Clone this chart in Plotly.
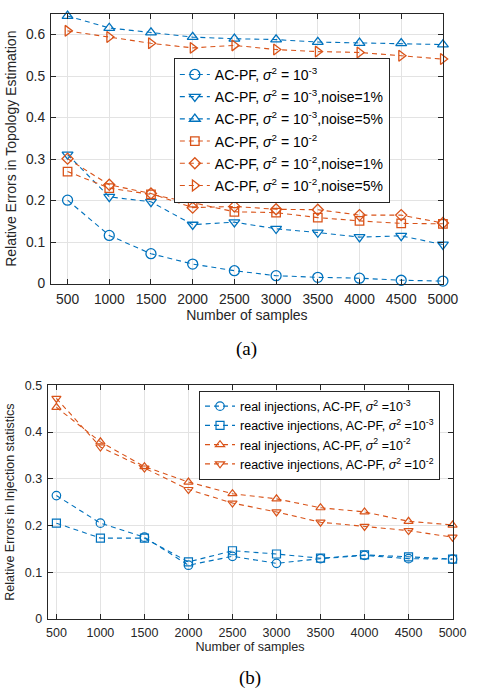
import plotly.graph_objects as go

samples = [500, 1000, 1500, 2000, 2500, 3000, 3500, 4000, 4500, 5000]

# (a) topology estimation errors
topo_s3 = [0.201, 0.116, 0.072, 0.047, 0.031, 0.019, 0.015, 0.013, 0.008, 0.006]
topo_s3_n1 = [0.311, 0.209, 0.197, 0.142, 0.148, 0.132, 0.123, 0.112, 0.115, 0.094]
topo_s3_n5 = [0.645, 0.616, 0.605, 0.594, 0.590, 0.588, 0.582, 0.580, 0.579, 0.576]
topo_s2 = [0.270, 0.230, 0.215, 0.195, 0.173, 0.171, 0.159, 0.151, 0.145, 0.144]
topo_s2_n1 = [0.301, 0.238, 0.217, 0.183, 0.186, 0.179, 0.178, 0.165, 0.165, 0.146]
topo_s2_n5 = [0.609, 0.594, 0.579, 0.568, 0.574, 0.564, 0.559, 0.557, 0.549, 0.541]

# (b) injection statistics errors
inj_real_s3 = [0.264, 0.205, 0.175, 0.115, 0.134, 0.119, 0.129, 0.136, 0.129, 0.128]
inj_react_s3 = [0.205, 0.173, 0.173, 0.122, 0.146, 0.139, 0.130, 0.137, 0.133, 0.128]
inj_real_s2 = [0.453, 0.379, 0.326, 0.293, 0.268, 0.257, 0.238, 0.229, 0.209, 0.201]
inj_react_s2 = [0.472, 0.368, 0.323, 0.277, 0.248, 0.229, 0.207, 0.198, 0.189, 0.175]

topo_names = [
    "AC-PF, <i>σ</i><sup>2</sup> = 10<sup>-3</sup>",
    "AC-PF, <i>σ</i><sup>2</sup> = 10<sup>-3</sup>,noise=1%",
    "AC-PF, <i>σ</i><sup>2</sup> = 10<sup>-3</sup>,noise=5%",
    "AC-PF, <i>σ</i><sup>2</sup> = 10<sup>-2</sup>",
    "AC-PF, <i>σ</i><sup>2</sup> = 10<sup>-2</sup>,noise=1%",
    "AC-PF, <i>σ</i><sup>2</sup> = 10<sup>-2</sup>,noise=5%",
]
inj_names = [
    "real injections, AC-PF, <i>σ</i><sup>2</sup> =10<sup>-3</sup>",
    "reactive injections, AC-PF, <i>σ</i><sup>2</sup> =10<sup>-3</sup>",
    "real injections, AC-PF, <i>σ</i><sup>2</sup> =10<sup>-2</sup>",
    "reactive injections, AC-PF, <i>σ</i><sup>2</sup> =10<sup>-2</sup>",
]

BLUE = "#0072BD"
ORANGE = "#D95319"
FONT = "Liberation Sans, Arial, sans-serif"
AX = "#262626"

fig = go.Figure()

topo_series = [topo_s3, topo_s3_n1, topo_s3_n5, topo_s2, topo_s2_n1, topo_s2_n5]
topo_colors = [BLUE, BLUE, BLUE, ORANGE, ORANGE, ORANGE]
topo_symbols = ["circle-open", "triangle-down-open", "triangle-up-open",
                "square-open", "diamond-open", "triangle-right-open"]
topo_sizes = [10, 9.5, 9.5, 8.5, 8.5, 9.5]
for i, (ys, c, s, sz, nm) in enumerate(zip(topo_series, topo_colors, topo_symbols, topo_sizes, topo_names)):
    fig.add_trace(go.Scatter(
        x=samples, y=ys, name=nm, mode="lines+markers", cliponaxis=False,
        line=dict(color=c, width=1.1, dash="5px,4px"),
        marker=dict(symbol=s, size=sz, color=c, line=dict(width=1.3, color=c)),
        xaxis="x", yaxis="y", legend="legend", legendgroup="a%d" % i))

inj_series = [inj_real_s3, inj_react_s3, inj_real_s2, inj_react_s2]
inj_colors = [BLUE, BLUE, ORANGE, ORANGE]
inj_symbols = ["circle-open", "square-open", "triangle-up-open", "triangle-down-open"]
inj_sizes = [8.5, 8, 8, 8]
for i, (ys, c, s, sz, nm) in enumerate(zip(inj_series, inj_colors, inj_symbols, inj_sizes, inj_names)):
    fig.add_trace(go.Scatter(
        x=samples, y=ys, name=nm, mode="lines+markers", cliponaxis=False,
        line=dict(color=c, width=1.1, dash="5px,4px"),
        marker=dict(symbol=s, size=sz, color=c, line=dict(width=1.2, color=c)),
        xaxis="x2", yaxis="y2", legend="legend2", legendgroup="b%d" % i))


def axis(size, **kw):
    d = dict(
        showgrid=True, gridcolor="#E3E3E3", gridwidth=1,
        showline=True, linecolor=AX, linewidth=1, mirror="ticks",
        ticks="inside", ticklen=5, tickcolor=AX, zeroline=False,
        tickfont=dict(family=FONT, color=AX, size=size),
    )
    d.update(kw)
    return d


fig.update_layout(
    width=484, height=692,
    margin=dict(l=0, r=0, t=0, b=0),
    paper_bgcolor="white", plot_bgcolor="white",
    font=dict(family=FONT, color=AX),
    xaxis=axis(13.8, domain=[51.7 / 484, 458 / 484], range=[300, 5000], anchor="y",
               tickvals=samples, ticklabelstandoff=3,
               title=dict(text="Number of samples", font=dict(size=14, color=AX), standoff=3)),
    yaxis=axis(13.8, domain=[1 - 282.7 / 692, 1 - 7 / 692], range=[0, 0.65], anchor="x",
               tickvals=[0, 0.1, 0.2, 0.3, 0.4, 0.5, 0.6],
               ticktext=["0", "0.1", "0.2", "0.3", "0.4", "0.5", "0.6"],
               ticklabelstandoff=2,
               title=dict(text="Relative Errors in Topology Estimation",
                          font=dict(size=14, color=AX), standoff=6)),
    xaxis2=axis(12.5, domain=[48.3 / 484, 468 / 484], range=[400, 5000], anchor="y2",
                tickvals=samples, ticklabelstandoff=2,
                title=dict(text="Number of samples", font=dict(size=12.6, color=AX), standoff=3)),
    yaxis2=axis(12.5, domain=[1 - 625.5 / 692, 1 - 386.7 / 692], range=[0, 0.5], anchor="x2",
                tickvals=[0, 0.1, 0.2, 0.3, 0.4, 0.5],
                ticktext=["0", "0.1", "0.2", "0.3", "0.4", "0.5"],
                ticklabelstandoff=2,
                title=dict(text="Relative Errors in Injection statistics",
                           font=dict(size=12.5, color=AX), standoff=7)),
    legend=dict(x=403 / 484, y=1 - 52 / 692, xanchor="right", yanchor="top",
                bgcolor="white", bordercolor=AX, borderwidth=1,
                font=dict(family=FONT, size=14, color="#000000"),
                traceorder="grouped", tracegroupgap=1, itemwidth=30),
    legend2=dict(x=455 / 484, y=1 - 392 / 692, xanchor="right", yanchor="top",
                 bgcolor="white", bordercolor=AX, borderwidth=1,
                 font=dict(family=FONT, size=12.5, color="#000000"),
                 traceorder="grouped", tracegroupgap=0, itemwidth=30),
    annotations=[
        dict(text="(a)", x=254 / 484, y=1 - 350 / 692, xref="paper", yref="paper",
             showarrow=False, yanchor="middle",
             font=dict(family="Liberation Serif, Times New Roman, serif", size=19, color="#000")),
        dict(text="(b)", x=258 / 484, y=1 - 686 / 692, xref="paper", yref="paper",
             showarrow=False, yanchor="middle",
             font=dict(family="Liberation Serif, Times New Roman, serif", size=19, color="#000")),
    ],
)

fig.write_html("out.html", config={"displayModeBar": False},
               post_script="document.body.style.margin='0';document.body.style.overflow='hidden';")
